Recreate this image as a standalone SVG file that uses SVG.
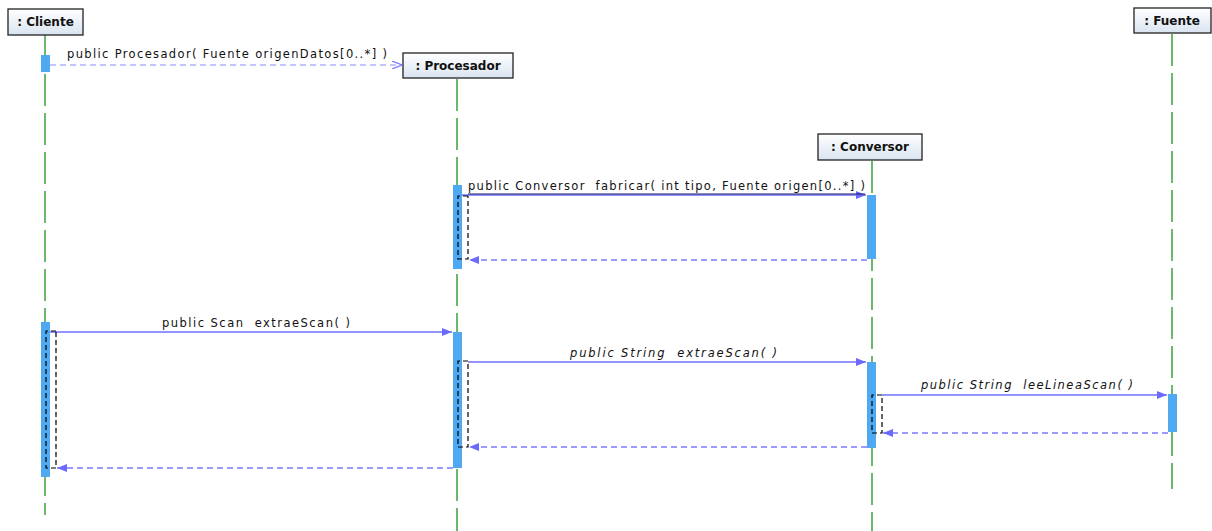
<svg xmlns="http://www.w3.org/2000/svg" width="1212" height="531" viewBox="0 0 1212 531" xml:space="preserve">
  <defs>
    <linearGradient id="headFill" x1="0" y1="0" x2="0" y2="1">
      <stop offset="0" stop-color="#ffffff"/>
      <stop offset="1" stop-color="#d9e4f1"/>
    </linearGradient>
    <marker id="filled" viewBox="0 0 10 8" refX="10" refY="4" markerWidth="10" markerHeight="8" markerUnits="userSpaceOnUse" orient="auto">
      <path d="M0,0 L10,4 L0,8 Z" fill="#6a6aff"/>
    </marker>
    <marker id="open" viewBox="0 0 10 8" refX="10" refY="4" markerWidth="10" markerHeight="8" markerUnits="userSpaceOnUse" orient="auto">
      <path d="M0,0 L10,4 L0,8" fill="none" stroke="#7a7aff" stroke-width="1.2"/>
    </marker>
  </defs>
  <style>
    .head { fill: url(#headFill); stroke: #222; stroke-width: 1.3; }
    .htxt { font-family: "DejaVu Sans", sans-serif; font-weight: bold; font-size: 12px; fill: #111; text-anchor: middle; }
    .life { stroke: #2e9a2e; stroke-width: 1.4; stroke-dasharray: 32 7; fill: none; }
    .act { fill: #4ea8f2; }
    .call { stroke: #7070ff; stroke-width: 1.3; fill: none; marker-end: url(#filled); }
    .ret { stroke: #7a7aff; stroke-width: 1.3; fill: none; stroke-dasharray: 6 4; marker-end: url(#filled); }
    .create { stroke: #8a8aff; stroke-width: 1.2; fill: none; stroke-dasharray: 6 4; marker-end: url(#open); }
    .frame { stroke: #000; stroke-width: 1.2; fill: none; stroke-dasharray: 5 3; }
    .lbl { font-family: "DejaVu Sans", sans-serif; font-size: 11.5px; fill: #111; white-space: pre; }
    .it { font-style: italic; }
  </style>

  <!-- lifelines -->
  <g id="lifelines">
    <line class="life" x1="45" y1="35" x2="45" y2="515"/>
    <line class="life" x1="457" y1="79" x2="457" y2="531"/>
    <line class="life" x1="872" y1="161" x2="872" y2="531"/>
    <line class="life" x1="1172" y1="34" x2="1172" y2="489"/>
  </g>

  <!-- participants -->
  <g id="cliente">
    <rect class="head" x="8" y="9" width="75" height="26"/>
    <text class="htxt" x="45.5" y="26">: Cliente</text>
    <rect class="act" x="41" y="55" width="9" height="17"/>
    <rect class="act" x="41" y="322" width="9" height="155"/>
  </g>
  <g id="procesador">
    <rect class="head" x="403" y="53" width="110" height="25"/>
    <text class="htxt" x="458" y="69.5">: Procesador</text>
    <rect class="act" x="453" y="185" width="9" height="84"/>
    <rect class="act" x="453" y="332" width="9" height="136"/>
  </g>
  <g id="conversor">
    <rect class="head" x="818" y="134" width="104" height="26"/>
    <text class="htxt" x="870" y="151">: Conversor</text>
    <rect class="act" x="867" y="195" width="9" height="64"/>
    <rect class="act" x="867" y="362" width="9" height="86"/>
  </g>
  <g id="fuente">
    <rect class="head" x="1134" y="8" width="77" height="25"/>
    <text class="htxt" x="1172" y="24.5">: Fuente</text>
    <rect class="act" x="1168" y="394" width="9" height="38"/>
  </g>

  <!-- messages -->
  <g id="connectors">
    <line class="create" x1="50" y1="65" x2="402" y2="65"/>
    <text class="lbl" x="67" y="58" textLength="320">public Procesador( Fuente origenDatos[0..*] )</text>

    <line class="call" x1="462" y1="195" x2="866" y2="195"/>
    <text class="lbl" x="468" y="190" textLength="397">public Conversor  fabricar( int tipo, Fuente origen[0..*] )</text>
    <line x1="468" y1="194" x2="865" y2="194" stroke="#1d1d6a" stroke-width="1"/>
    <path class="frame" d="M468,196 L458,196 L458,259 L468,259 L468,196"/>
    <line class="ret" x1="867" y1="260" x2="469" y2="260"/>

    <line class="call" x1="50" y1="332" x2="452" y2="332"/>
    <text class="lbl" x="162" y="327" textLength="188">public Scan  extraeScan( )</text>
    <path class="frame" d="M56,331 L46,331 L46,468 L56,468 Z"/>

    <line class="call" x1="468" y1="362" x2="866" y2="362"/>
    <text class="lbl it" x="570" y="357" textLength="207">public String  extraeScan( )</text>
    <path class="frame" d="M468,361 L458,361 L458,447 L468,447 Z"/>

    <line class="call" x1="882" y1="395" x2="1167" y2="395"/>
    <text class="lbl it" x="921" y="389" textLength="212">public String  leeLineaScan( )</text>
    <path class="frame" d="M882,395 L872,395 L872,433 L882,433 Z"/>

    <line class="ret" x1="1168" y1="433" x2="883" y2="433"/>
    <line class="ret" x1="867" y1="447" x2="469" y2="447"/>
    <line class="ret" x1="453" y1="468" x2="57" y2="468"/>
  </g>
</svg>
